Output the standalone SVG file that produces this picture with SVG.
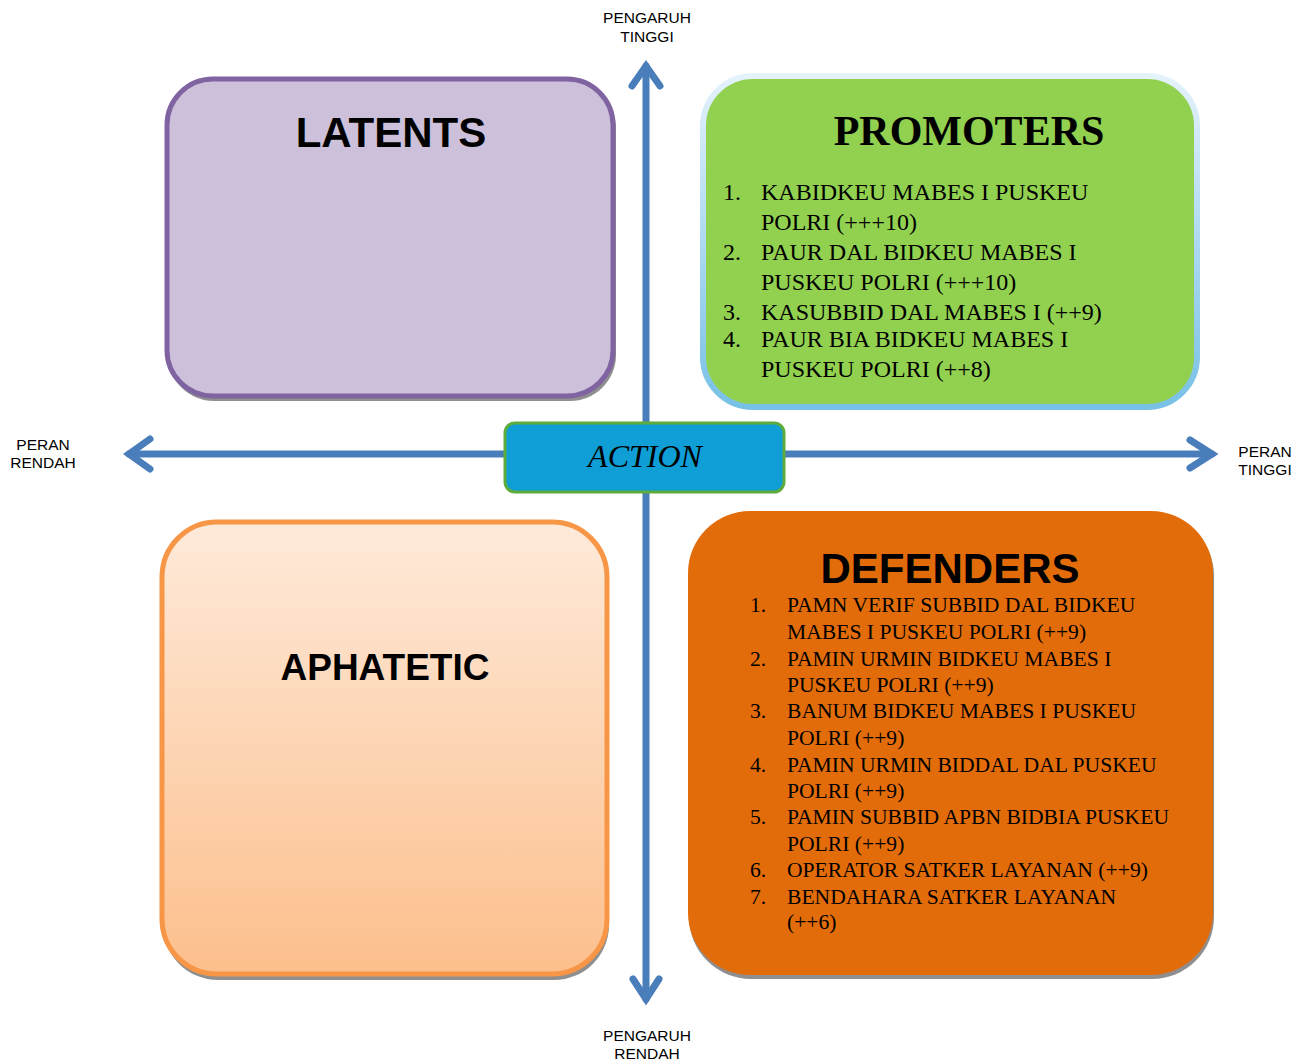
<svg xmlns="http://www.w3.org/2000/svg" width="1310" height="1061" viewBox="0 0 1310 1061">
<defs>
<linearGradient id="apGrad" x1="0" y1="0" x2="0" y2="1">
<stop offset="0" stop-color="#FEEADA"/>
<stop offset="1" stop-color="#FCBF8C"/>
</linearGradient>
<linearGradient id="prBorder" x1="0" y1="0" x2="0" y2="1">
<stop offset="0" stop-color="#E4F2FB"/>
<stop offset="1" stop-color="#78C1E6"/>
</linearGradient>
</defs>
<style>
.axis{fill:none;stroke:#4A7EBB;stroke-width:7;stroke-linecap:round;stroke-linejoin:miter}
.lbl{font-family:"Liberation Sans",Arial,sans-serif;font-size:15.5px;fill:#000;text-anchor:middle}
.titleS{font-family:"Liberation Sans",Arial,sans-serif;font-weight:bold;fill:#000;text-anchor:middle}
.titleT{font-family:"Liberation Serif","Times New Roman",serif;font-weight:bold;fill:#000;text-anchor:middle}
.item{font-family:"Liberation Serif","Times New Roman",serif;fill:#000}
.shadow{fill:#8F8F8F}
</style>
<rect width="1310" height="1061" fill="#FFFFFF"/>

<g id="connectors">
<line class="axis" x1="129" y1="454" x2="1212" y2="454"/>
<line class="axis" x1="646" y1="66" x2="646" y2="999"/>
<path class="axis" d="M150 439 L129 454 L150 469"/>
<path class="axis" d="M1190 440 L1212 454 L1190 468"/>
<path class="axis" d="M632 86 L646 66 L660 86"/>
<path class="axis" d="M633 979 L646 999 L659 979"/>
</g>

<g id="axis-labels">
<text class="lbl" x="647" y="23">PENGARUH</text>
<text class="lbl" x="647" y="42">TINGGI</text>
<text class="lbl" x="647" y="1041">PENGARUH</text>
<text class="lbl" x="647" y="1059">RENDAH</text>
<text class="lbl" x="43" y="450">PERAN</text>
<text class="lbl" x="43" y="468">RENDAH</text>
<text class="lbl" x="1265" y="457">PERAN</text>
<text class="lbl" x="1265" y="475">TINGGI</text>
</g>

<g id="latents">
<rect class="shadow" x="168" y="82" width="448" height="319" rx="46"/>
<rect x="167" y="79" width="446" height="317" rx="46" fill="#CCC0DA" stroke="#8064A2" stroke-width="5"/>
<text class="titleS" x="391" y="147" font-size="42">LATENTS</text>
</g>

<g id="promoters">
<rect x="703" y="76" width="494" height="331" rx="50" fill="#92D050" stroke="url(#prBorder)" stroke-width="6"/>
<text class="titleT" x="969" y="145" font-size="42">PROMOTERS</text>
<g class="item" font-size="24">
<text x="723" y="200">1.</text><text x="761" y="200">KABIDKEU MABES I PUSKEU</text>
<text x="761" y="230">POLRI (+++10)</text>
<text x="723" y="260">2.</text><text x="761" y="260">PAUR DAL BIDKEU MABES I</text>
<text x="761" y="290">PUSKEU POLRI (+++10)</text>
<text x="723" y="320">3.</text><text x="761" y="320">KASUBBID DAL MABES I (++9)</text>
<text x="723" y="347">4.</text><text x="761" y="347">PAUR BIA BIDKEU MABES I</text>
<text x="761" y="377">PUSKEU POLRI (++8)</text>
</g>
</g>

<g id="action">
<rect x="505" y="423" width="279" height="69" rx="10" fill="#0F9ED5" stroke="#5CAB3C" stroke-width="3"/>
<text x="645" y="467" font-family="'Liberation Serif','Times New Roman',serif" font-style="italic" font-size="32" text-anchor="middle" fill="#000">ACTION</text>
</g>

<g id="aphatetic">
<rect class="shadow" x="163" y="526" width="446" height="454" rx="55"/>
<rect x="162" y="522" width="445" height="452" rx="55" fill="url(#apGrad)" stroke="#F79646" stroke-width="5"/>
<text class="titleS" x="385" y="680" font-size="37">APHATETIC</text>
</g>

<g id="defenders">
<rect class="shadow" x="689" y="514" width="525" height="465" rx="62"/>
<rect x="688" y="511" width="525" height="464" rx="62" fill="#E36C0A"/>
<text class="titleS" x="950" y="583" font-size="42">DEFENDERS</text>
<g class="item" font-size="21.6">
<text x="750" y="612">1.</text><text x="787" y="612">PAMN VERIF SUBBID DAL BIDKEU</text>
<text x="787" y="639">MABES I PUSKEU POLRI (++9)</text>
<text x="750" y="666">2.</text><text x="787" y="666">PAMIN URMIN BIDKEU MABES I</text>
<text x="787" y="692">PUSKEU POLRI (++9)</text>
<text x="750" y="718">3.</text><text x="787" y="718">BANUM BIDKEU MABES I PUSKEU</text>
<text x="787" y="745">POLRI (++9)</text>
<text x="750" y="772">4.</text><text x="787" y="772">PAMIN URMIN BIDDAL DAL PUSKEU</text>
<text x="787" y="798">POLRI (++9)</text>
<text x="750" y="824">5.</text><text x="787" y="824">PAMIN SUBBID APBN BIDBIA PUSKEU</text>
<text x="787" y="851">POLRI (++9)</text>
<text x="750" y="877">6.</text><text x="787" y="877">OPERATOR SATKER LAYANAN (++9)</text>
<text x="750" y="904">7.</text><text x="787" y="904">BENDAHARA SATKER LAYANAN</text>
<text x="787" y="929">(++6)</text>
</g>
</g>
</svg>
